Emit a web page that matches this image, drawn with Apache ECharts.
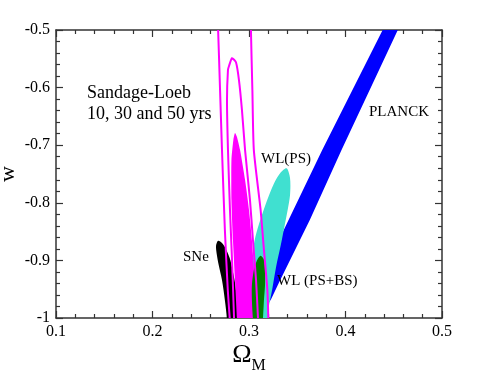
<!DOCTYPE html>
<html>
<head>
<meta charset="utf-8">
<script src="https://cdn.jsdelivr.net/npm/echarts@6/dist/echarts.min.js"></script>
<style>
    html, body { margin: 0; padding: 0; background: #fff; }
    #chart { width: 485px; height: 374px; }
</style>
</head>
<body>
<div id="chart"></div>
<script>
// Tick values of both axes
const xTicks = [0.1, 0.2, 0.3, 0.4, 0.5];
const yTicks = [-1, -0.9, -0.8, -0.7, -0.6, -0.5];

// Contour outlines, [Omega_M, w] pairs
const planck = [
    [0.449, -0.465], [0.464, -0.465], [0.396, -0.708], [0.363, -0.830], [0.331, -0.939],
    [0.323, -0.967], [0.318, -0.981], [0.313, -0.969], [0.308, -0.945], [0.376, -0.708]
];
const wlPS = [
    [0.339, -0.740], [0.3425, -0.757], [0.3425, -0.787], [0.340, -0.813], [0.337, -0.839],
    [0.333, -0.873], [0.328, -0.912], [0.324, -0.951], [0.320, -0.986], [0.318, -1.021],
    [0.309, -1.021], [0.305, -0.969], [0.303, -0.917], [0.305, -0.873], [0.309, -0.844],
    [0.318, -0.799], [0.326, -0.766], [0.333, -0.747]
];
const sne = [
    [0.268, -0.866], [0.272, -0.870], [0.276, -0.880], [0.280, -0.896], [0.283, -0.917],
    [0.2855, -0.939], [0.2875, -0.969], [0.2885, -1.0], [0.289, -1.02], [0.277, -1.02],
    [0.277, -1.0], [0.275, -0.969], [0.272, -0.934], [0.268, -0.903], [0.266, -0.882],
    [0.266, -0.873]
];
const sl50 = [
    [0.2855, -0.679], [0.2876, -0.686], [0.2907, -0.708], [0.2959, -0.760], [0.300, -0.8125],
    [0.303, -0.865], [0.306, -0.934], [0.308, -1.0], [0.309, -1.02], [0.288, -1.02],
    [0.2875, -1.0], [0.2855, -0.934], [0.2834, -0.865], [0.2818, -0.795], [0.2818, -0.726],
    [0.2838, -0.691]
];
const wlPSBS = [
    [0.312, -0.892], [0.3155, -0.899], [0.3166, -0.917], [0.3166, -0.943], [0.3155, -0.969],
    [0.3145, -1.0], [0.3135, -1.021], [0.305, -1.021], [0.304, -1.0], [0.303, -0.969],
    [0.303, -0.943], [0.305, -0.917], [0.308, -0.901]
];
const sl30 = [
    [0.2824, -0.549], [0.2865, -0.556], [0.2896, -0.587], [0.2927, -0.639], [0.2959, -0.708],
    [0.301, -0.795], [0.3041, -0.865], [0.3073, -0.934], [0.3093, -1.0], [0.310, -1.03],
    [0.285, -1.03], [0.2845, -1.0], [0.2824, -0.899], [0.2803, -0.8125], [0.2782, -0.708],
    [0.2772, -0.622], [0.2782, -0.569], [0.2793, -0.5625]
];
const sl10 = [
    [0.267, -0.47], [0.268, -0.5], [0.270, -0.604], [0.272, -0.708], [0.275, -0.847],
    [0.278, -0.951], [0.280, -1.0], [0.281, -1.03], [0.320, -1.03], [0.320, -1.0],
    [0.319, -0.951], [0.3155, -0.882], [0.312, -0.812], [0.305, -0.708], [0.3035, -0.604],
    [0.302, -0.5], [0.302, -0.47]
];

const serif = '"Times New Roman", "Liberation Serif", serif';

// one custom series per contour, drawn as a clipped polygon
function contour(name, pts, style, smooth) {
    return {
        type: 'custom',
        name: name,
        clip: true,
        silent: true,
        data: pts,
        renderItem: function (params, api) {
            if (params.dataIndex !== 0) return null;
            const points = pts.map(p => api.coord(p));
            return {
                type: 'polygon',
                shape: { points: points, smooth: smooth },
                style: style
            };
        }
    };
}

const axisLine = { show: true, onZero: false, lineStyle: { color: '#333', width: 1.5 } };
const axisTick = { show: true, inside: true, length: 7, lineStyle: { color: '#333', width: 1.2 } };
const minorTick = { show: true, splitNumber: 5, length: 4, lineStyle: { color: '#333', width: 1.2 } };
const tickLabel = { color: '#000', fontFamily: serif, fontSize: 16, margin: 6 };

const chart = echarts.init(document.getElementById('chart'), null, { renderer: 'canvas' });

const option = {
    animation: false,
    backgroundColor: '#fff',
    textStyle: { fontFamily: serif },
    grid: { left: 56, top: 30, width: 386, height: 288, containLabel: false, outerBoundsMode: 'none' },
    xAxis: [
        {
            type: 'value',
            position: 'bottom',
            min: xTicks[0],
            max: xTicks[xTicks.length - 1],
            interval: 0.1,
            axisLine: axisLine,
            axisTick: axisTick,
            minorTick: minorTick,
            splitLine: { show: false },
            axisLabel: tickLabel,
            name: '{o|Ω}{m|M}',
            nameLocation: 'middle',
            nameGap: 24,
            nameMoveOverlap: false,
            nameTextStyle: {
                rich: {
                    o: { fontFamily: serif, fontSize: 26, color: '#000', verticalAlign: 'bottom', padding: [0, 0, 6, 0] },
                    m: { fontFamily: serif, fontSize: 16, color: '#000', verticalAlign: 'bottom' }
                }
            }
        },
        {
            type: 'value',
            position: 'top',
            min: xTicks[0],
            max: xTicks[xTicks.length - 1],
            interval: 0.1,
            axisLine: axisLine,
            axisTick: axisTick,
            minorTick: minorTick,
            splitLine: { show: false },
            axisLabel: { show: false }
        }
    ],
    yAxis: [
        {
            type: 'value',
            position: 'left',
            min: yTicks[0],
            max: yTicks[yTicks.length - 1],
            interval: 0.1,
            axisLine: axisLine,
            axisTick: axisTick,
            minorTick: minorTick,
            splitLine: { show: false },
            axisLabel: tickLabel,
            name: 'w',
            nameLocation: 'middle',
            nameGap: 37,
            nameMoveOverlap: false,
            nameTextStyle: { fontFamily: serif, fontSize: 22, color: '#000' }
        },
        {
            type: 'value',
            position: 'right',
            min: yTicks[0],
            max: yTicks[yTicks.length - 1],
            interval: 0.1,
            axisLine: axisLine,
            axisTick: axisTick,
            minorTick: minorTick,
            splitLine: { show: false },
            axisLabel: { show: false }
        }
    ],
    series: [
        contour('PLANCK', planck, { fill: '#0000ff' }, 0),
        contour('WL(PS)', wlPS, { fill: '#40e0d0' }, 0.3),
        contour('SNe', sne, { fill: '#000000' }, 0.3),
        contour('Sandage-Loeb 50 yrs', sl50, { fill: '#ff00ff' }, 0.2),
        contour('WL (PS+BS)', wlPSBS, { fill: '#008000' }, 0.3),
        contour('Sandage-Loeb 30 yrs', sl30, { fill: 'none', stroke: '#ff00ff', lineWidth: 2 }, 0.2),
        contour('Sandage-Loeb 10 yrs', sl10, { fill: 'none', stroke: '#ff00ff', lineWidth: 2 }, 0.2)
    ],
    // annotations sit above the contours
    graphic: [
        { type: 'text', z: 100, left: 87, top: 84, style: { text: 'Sandage-Loeb', font: '18px ' + serif, fill: '#000' } },
        { type: 'text', z: 100, left: 87, top: 105, style: { text: '10, 30 and 50 yrs', font: '18px ' + serif, fill: '#000' } },
        { type: 'text', z: 100, left: 369, top: 105, style: { text: 'PLANCK', font: '15px ' + serif, fill: '#000' } },
        { type: 'text', z: 100, left: 261, top: 152, style: { text: 'WL(PS)', font: '15px ' + serif, fill: '#000' } },
        { type: 'text', z: 100, left: 183, top: 250, style: { text: 'SNe', font: '15px ' + serif, fill: '#000' } },
        { type: 'text', z: 100, left: 277, top: 274, style: { text: 'WL (PS+BS)', font: '15px ' + serif, fill: '#000' } }
    ]
};

chart.setOption(option);

window.addEventListener('resize', function () {
    chart.resize();
});
</script>
</body>
</html>
